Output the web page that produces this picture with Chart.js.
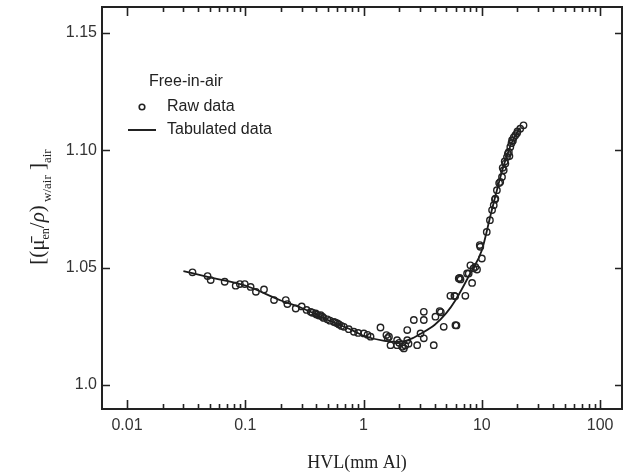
<!DOCTYPE html>
<html lang="en">
<head>
  <meta charset="UTF-8">
  <title>HVL vs mass energy-absorption ratio</title>
  <script src="https://cdn.jsdelivr.net/npm/chart.js@4.4.1/dist/chart.umd.min.js"></script>
  <style>
    html, body { margin: 0; padding: 0; background: #fff; }
    #wrap { width: 623px; height: 476px; }
  </style>
</head>
<body>
  <div id="wrap"><canvas id="chart" width="623" height="476"></canvas></div>

  <script>
    // tabulated curve (HVL in mm Al, ratio)
    const tabHvl = [0.030, 0.05, 0.1, 0.2, 0.3, 0.5, 0.8, 1.0, 1.5, 2.0, 2.5, 3.0, 4.0, 5.0, 6.0, 8.0, 10, 12, 15, 18, 21];
    const tabRatio = [1.0485, 1.0459, 1.0424, 1.0360, 1.0328, 1.0277, 1.0234, 1.0210, 1.0188, 1.0184, 1.0196, 1.0217, 1.0257, 1.0306, 1.0362, 1.0477, 1.0574, 1.0735, 1.0920, 1.1035, 1.1095];

    // raw measurements
    const rawHvl = [0.0358, 0.048, 0.051, 0.067, 0.083, 0.090, 0.099, 0.111, 0.123, 0.144,
                    0.175, 0.220, 0.227, 0.267, 0.357, 0.394, 0.448, 0.494, 0.562, 0.600,
                    0.434, 0.682, 0.828, 1.006, 1.146, 1.39, 1.56, 1.64, 1.69, 1.92,
                    1.92, 2.12, 2.19, 2.34, 2.34, 2.66, 2.84, 3.03, 3.23, 3.23,
                    3.23, 3.92, 4.05, 4.40, 4.76, 5.42, 5.86, 5.98, 7.25, 6.38,
                    7.5, 8.0, 8.27, 9.1, 9.7, 10.0, 11.0, 22.5, 21.1, 19.2,
                    18.0, 17.4, 16.9, 16.3, 15.8, 15.3, 14.8, 14.3, 13.4, 13.0,
                    12.6, 12.2, 11.7, 9.6, 8.8, 7.74, 6.6, 0.30, 0.40, 0.52,
                    0.65, 0.75, 0.90, 2.0, 2.4, 17.8, 16.6, 15.0, 18.6, 20.0,
                    0.33, 0.37, 0.42, 0.46, 0.58, 0.62, 1.08, 1.6, 2.25, 6.1,
                    6.5, 5.95, 19.8, 18.3, 17.1, 15.6, 14.0, 12.9, 4.5, 8.5];
    const rawRatio = [1.0480, 1.0464, 1.0447, 1.0440, 1.0423, 1.0430, 1.0430, 1.0418, 1.0397, 1.0407,
                      1.0362, 1.0362, 1.0345, 1.0326, 1.0312, 1.0305, 1.0291, 1.0280, 1.0269, 1.0263,
                      1.0298, 1.0248, 1.0227, 1.0220, 1.0206, 1.0245, 1.0213, 1.0206, 1.0170, 1.0170,
                      1.0191, 1.0163, 1.0156, 1.0191, 1.0234, 1.0277, 1.0170, 1.0220, 1.0199, 1.0277,
                      1.0312, 1.0170, 1.0291, 1.0315, 1.0248, 1.0380, 1.0380, 1.0255, 1.0380, 1.0454,
                      1.0475, 1.0510, 1.0435, 1.0492, 1.0589, 1.0539, 1.0652, 1.1106, 1.1092, 1.1064,
                      1.1043, 1.1014, 1.0993, 1.0971, 1.0943, 1.0915, 1.0886, 1.0865, 1.0830, 1.0794,
                      1.0766, 1.0745, 1.0702, 1.0596, 1.0503, 1.0475, 1.0450, 1.0335, 1.0300, 1.0274,
                      1.0252, 1.0238, 1.0222, 1.0180, 1.0176, 1.1030, 1.0985, 1.0925, 1.1055, 1.1080,
                      1.0320, 1.0308, 1.0296, 1.0286, 1.0266, 1.0258, 1.0214, 1.0200, 1.0168, 1.0254,
                      1.0456, 1.0378, 1.1072, 1.1040, 1.0975, 1.0952, 1.0860, 1.0790, 1.0310, 1.0497];

    const xTicks = [0.01, 0.1, 1, 10, 100];
    const xTickLabels = ['0.01', '0.1', '1', '10', '100'];
    const yTicks = [1.0, 1.05, 1.10, 1.15];
    const yTickLabels = ['1.0', '1.05', '1.10', '1.15'];

    const ink = '#222';
    const sans = '"Liberation Sans", Arial, sans-serif';
    const serif = '"Liberation Serif", "DejaVu Serif", serif';

    const rawPts = rawHvl.map((x, i) => ({ x: x, y: rawRatio[i] }));
    const tabPts = tabHvl.map((x, i) => ({ x: x, y: tabRatio[i] }));

    // frame, inward ticks, legend and axis titles
    const decor = {
      id: 'decor',
      afterDraw(chart) {
        const ctx = chart.ctx;
        const a = chart.chartArea;
        const xs = chart.scales.x, ys = chart.scales.y;
        ctx.save();
        ctx.strokeStyle = ink;
        ctx.lineWidth = 2;
        ctx.strokeRect(a.left, a.top, a.right - a.left, a.bottom - a.top);

        // log minor/major ticks on bottom and top
        ctx.lineWidth = 1.6;
        for (let d = -2; d <= 2; d++) {
          for (let k = 1; k <= 9; k++) {
            const v = k * Math.pow(10, d);
            if (v < xs.min || v > xs.max) continue;
            const px = Math.round(xs.getPixelForValue(v)) + 0.5;
            const len = k === 1 ? 9 : 5;
            ctx.beginPath();
            ctx.moveTo(px, a.bottom); ctx.lineTo(px, a.bottom - len);
            ctx.moveTo(px, a.top); ctx.lineTo(px, a.top + len);
            ctx.stroke();
          }
        }
        // y ticks on left and right
        yTicks.forEach(v => {
          const py = Math.round(ys.getPixelForValue(v)) + 0.5;
          ctx.beginPath();
          ctx.moveTo(a.left, py); ctx.lineTo(a.left + 8, py);
          ctx.moveTo(a.right, py); ctx.lineTo(a.right - 7, py);
          ctx.stroke();
        });

        // legend
        ctx.fillStyle = ink;
        ctx.font = '16px ' + sans;
        ctx.textBaseline = 'middle';
        ctx.textAlign = 'left';
        ctx.fillText('Free-in-air', 149, 82);
        ctx.beginPath();
        ctx.arc(142, 107, 2.8, 0, Math.PI * 2);
        ctx.lineWidth = 1.6;
        ctx.stroke();
        ctx.fillText('Raw data', 167, 107);
        ctx.beginPath();
        ctx.moveTo(128, 130); ctx.lineTo(156, 130);
        ctx.lineWidth = 2;
        ctx.stroke();
        ctx.fillText('Tabulated data', 167, 130);

        // x title
        ctx.font = '18px ' + serif;
        ctx.textAlign = 'center';
        ctx.textBaseline = 'alphabetic';
        ctx.fillText('HVL(mm Al)', 357, 468);

        // y title, rotated, with subscripts
        const parts = [
          ['[(', 21, 0], ['\u03BC\u0304', 21, 0], ['en', 12, 5], ['/', 21, 0],
          ['\u03C1', 21, 0, 'italic '], [')', 21, 0], [' w/air', 13, 7], [' ]', 21, 0], ['air', 13, 7]
        ];
        let total = 0;
        parts.forEach(p => {
          ctx.font = (p[3] || '') + p[1] + 'px ' + serif;
          p.w = ctx.measureText(p[0]).width;
          total += p.w;
        });
        ctx.translate(44, 207);
        ctx.rotate(-Math.PI / 2);
        ctx.textAlign = 'left';
        let cx = -total / 2;
        parts.forEach(p => {
          ctx.font = (p[3] || '') + p[1] + 'px ' + serif;
          ctx.fillText(p[0], cx, p[2]);
          cx += p.w;
        });
        ctx.restore();
      }
    };

    new Chart(document.getElementById('chart'), {
      type: 'scatter',
      data: {
        datasets: [
          {
            label: 'Tabulated data',
            data: tabPts,
            showLine: true,
            borderColor: '#1a1a1a',
            borderWidth: 1.8,
            pointRadius: 0,
            cubicInterpolationMode: 'monotone',
            order: 2
          },
          {
            label: 'Raw data',
            data: rawPts,
            pointStyle: 'circle',
            pointRadius: 3.2,
            borderWidth: 1.4,
            borderColor: '#222',
            backgroundColor: 'rgba(255,255,255,0)',
            order: 1
          }
        ]
      },
      options: {
        responsive: false,
        animation: false,
        layout: { autoPadding: false, padding: { top: 7, right: 1, left: 0, bottom: 0 } },
        plugins: { legend: { display: false }, tooltip: { enabled: false } },
        scales: {
          x: {
            type: 'logarithmic',
            min: 0.00615,
            max: 153,
            grid: { display: false, drawTicks: false },
            border: { display: false },
            afterBuildTicks: s => { s.ticks = xTicks.map(v => ({ value: v })); },
            afterFit: s => { s.height = 67; s.paddingLeft = 0; s.paddingRight = 0; },
            ticks: {
              color: '#333',
              font: { family: sans, size: 16 },
              padding: 7,
              maxRotation: 0,
              autoSkip: false,
              callback: (v) => xTickLabels[xTicks.indexOf(v)]
            }
          },
          y: {
            min: 0.9898,
            max: 1.161,
            grid: { display: false, drawTicks: false },
            border: { display: false },
            afterBuildTicks: s => { s.ticks = yTicks.map(v => ({ value: v })); },
            afterFit: s => { s.width = 102; s.paddingTop = 0; s.paddingBottom = 0; },
            ticks: {
              color: '#333',
              font: { family: sans, size: 16 },
              padding: 5,
              autoSkip: false,
              callback: (v) => {
                const i = yTicks.findIndex(t => Math.abs(t - v) < 1e-9);
                return i >= 0 ? yTickLabels[i] : '';
              }
            }
          }
        }
      },
      plugins: [decor]
    });
  </script>
</body>
</html>
